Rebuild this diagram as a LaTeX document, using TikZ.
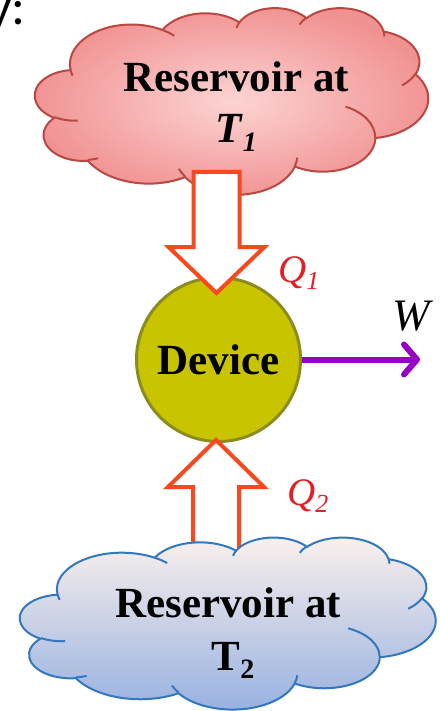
\documentclass[tikz,border=0pt]{standalone}
\usepackage{fontspec}
\setmainfont{Liberation Serif}
\newfontfamily\calib{Carlito}
\usetikzlibrary{arrows.meta}

\definecolor{pinkin}{RGB}{252,212,211}
\definecolor{pinkout}{RGB}{241,146,146}
\definecolor{pinkline}{RGB}{185,72,66}
\definecolor{bluetop}{RGB}{251,241,236}
\definecolor{bluebot}{RGB}{150,176,224}
\definecolor{blueline}{RGB}{50,120,190}
\definecolor{arrred}{RGB}{250,72,30}
\definecolor{qred}{RGB}{228,30,36}
\definecolor{devfill}{RGB}{200,196,0}
\definecolor{devline}{RGB}{140,140,30}
\definecolor{purp}{RGB}{150,0,200}

\newcommand\cldarc[5]{%
 \pgfmathsetmacro\cldta{atan2((#2)*sin(#4),(#3)*cos(#4))}%
 \pgfmathsetmacro\cldtb{atan2((#2)*sin((#4)+(#5)),(#3)*cos((#4)+(#5)))}%
 \pgfmathsetmacro\cldd{(\cldtb)-(\cldta)}%
 \pgfmathsetmacro\cldd{(\cldd)+360*round(((#5)-(\cldd))/360)}%
 \pgfmathsetmacro\cldtb{(\cldta)+(\cldd)}%
 \expandafter\xdef\csname #1s\endcsname{\cldta}%
 \expandafter\xdef\csname #1e\endcsname{\cldtb}}

\def\cloudmain{(39.00,143.70)
 arc[start angle=\cAs, end angle=\cAe, x radius=67.53, y radius=91.90]
 arc[start angle=\cBs, end angle=\cBe, x radius=53.33, y radius=72.67]
 arc[start angle=\cCs, end angle=\cCe, x radius=43.65, y radius=59.45]
 arc[start angle=\cDs, end angle=\cDe, x radius=48.57, y radius=65.95]
 arc[start angle=\cEs, end angle=\cEe, x radius=53.33, y radius=72.73]
 arc[start angle=\cFs, end angle=\cFe, x radius=67.75, y radius=92.20]
 arc[start angle=\cGs, end angle=\cGe, x radius=57.85, y radius=78.67]
 arc[start angle=\cHs, end angle=\cHe, x radius=67.52, y radius=92.15]
 arc[start angle=\cIs, end angle=\cIe, x radius=77.20, y radius=105.43]
 arc[start angle=\cJs, end angle=\cJe, x radius=43.60, y radius=59.18]
 arc[start angle=\cKs, end angle=\cKe, x radius=43.45, y radius=59.45]
 -- cycle}

\def\cloudcurls{
 (46.93,261.77) arc[start angle=\kAs, end angle=\kAe, x radius=43.45, y radius=59.45]
 (69.28,348.99) arc[start angle=\kBs, end angle=\kBe, x radius=43.60, y radius=59.18]
 (164.78,390.90) arc[start angle=\kCs, end angle=\kCe, x radius=67.52, y radius=92.15]
 (288.27,347.51) arc[start angle=\kDs, end angle=\kDe, x radius=67.52, y radius=92.15]
 (341.29,229.54) arc[start angle=\kEs, end angle=\kEe, x radius=57.85, y radius=78.67]
 (417.98,153.54) arc[start angle=\kFs, end angle=\kFe, x radius=53.33, y radius=72.73]
 (383.24,54.26) arc[start angle=\kGs, end angle=\kGe, x radius=48.57, y radius=65.95]
 (290.78,39.52) arc[start angle=\kHs, end angle=\kHe, x radius=48.57, y radius=65.95]
 (221.41,47.20) arc[start angle=\kIs, end angle=\kIe, x radius=43.65, y radius=59.45]
 (140.00,51.92) arc[start angle=\kJs, end angle=\kJe, x radius=67.53, y radius=91.90]
 (41.27,157.89) arc[start angle=\kKs, end angle=\kKe, x radius=67.53, y radius=91.90]}

\tikzset{
 blockarrow/.style={draw=arrred, fill=white, line width=4pt, line join=miter},
 restext/.style={anchor=base, inner sep=0pt, font=\fontsize{43}{50}\selectfont\bfseries},
 qlabel/.style={anchor=base west, inner sep=0pt, text=qred, font=\fontsize{39}{40}\selectfont\itshape}
}

\begin{document}
\begin{tikzpicture}[x=1pt, y=-1pt]
\cldarc{cA}{67.53}{91.90}{-190.4875}{123.7805}
\cldarc{cB}{53.33}{72.67}{-144.1024}{89.9452}
\cldarc{cC}{43.65}{59.45}{-145.8079}{99.7230}
\cldarc{cD}{48.57}{65.95}{-130.9861}{117.2417}
\cldarc{cE}{53.33}{72.73}{-78.7089}{109.0269}
\cldarc{cF}{67.75}{92.20}{-46.2673}{130.2690}
\cldarc{cG}{57.85}{78.67}{0.6250}{114.0333}
\cldarc{cH}{67.52}{92.15}{22.4516}{115.1726}
\cldarc{cI}{77.20}{105.43}{66.2426}{75.7110}
\cldarc{cJ}{43.60}{59.18}{-274.9421}{146.7356}
\cldarc{cK}{43.45}{59.45}{-246.8285}{152.5189}
\cldarc{kA}{43.45}{59.45}{86.7420}{26.4295}
\cldarc{kB}{43.60}{59.18}{73.6105}{11.4475}
\cldarc{kC}{67.52}{92.15}{137.6242}{14.0811}
\cldarc{kD}{67.52}{92.15}{6.4533}{15.9984}
\cldarc{kE}{57.85}{78.67}{-70.2924}{70.9174}
\cldarc{kF}{53.33}{72.73}{30.3180}{27.7515}
\cldarc{kG}{48.57}{65.95}{-13.7443}{14.8589}
\cldarc{kH}{48.57}{65.95}{-149.1815}{18.1954}
\cldarc{kI}{43.65}{59.45}{-163.4943}{17.6864}
\cldarc{kJ}{67.53}{91.90}{-66.7070}{12.3194}
\cldarc{kK}{67.53}{91.90}{157.6544}{11.8582}

\useasboundingbox (0,0) rectangle (441,711);
\clip (0,0) rectangle (441,711);
\fill[white] (0,0) rectangle (441,711);

% top reservoir
\begin{scope}[shift={(35pt,-7.5pt)}, x=0.91pt, y=-0.432pt]
 \path[draw=pinkline, line width=2pt, inner color=pinkin, outer color=pinkout] \cloudmain;
 \draw[pinkline, line width=2pt] \cloudcurls;
\end{scope}
\node[restext] (topa) at (236,92) {Reservoir at};
\node[restext] (topb) at (236,143) {\textit{T}\raisebox{-0.2em}{\fontsize{28}{28}\selectfont\textit{1}}};

% device
\node[circle, draw=devline, fill=devfill, line width=3pt, minimum size=164pt, inner sep=0pt,
      font=\fontsize{43}{50}\selectfont\bfseries] (dev) at (218.5,359.5) {Device};

% heat arrows
\coordinate (tipA) at (216.5,293);
\draw[blockarrow] (tipA) -- ++(48,-46) -- ++(-25,0) -- ++(0,-75) -- ++(-46,0) -- ++(0,75) -- ++(-25,0) -- cycle;
\coordinate (tipB) at (216,440);
\draw[blockarrow] (tipB) -- ++(48,47) -- ++(-25,0) -- ++(0,75) -- ++(-46,0) -- ++(0,-75) -- ++(-25,0) -- cycle;

% bottom reservoir
\begin{scope}[shift={(20pt,-537pt)}, x=0.962pt, y=-0.398pt]
 \path[draw=blueline, line width=2pt, top color=bluetop, bottom color=bluebot] \cloudmain;
 \draw[blueline, line width=2pt] \cloudcurls;
\end{scope}
\node[restext] (bota) at (228,617) {Reservoir at};
\node[restext] (botb) at (233,670) {T\raisebox{-0.2em}{\fontsize{28}{28}\selectfont 2}};

% work
\coordinate (wend) at (420,359.5);
\draw[purp, line width=6pt, -{Straight Barb[length=13pt, width=30pt, round]}] (dev.east) -- (wend);

% labels
\node[qlabel] (q1) at (278,282) {Q\raisebox{-0.18em}{\fontsize{26}{26}\selectfont 1}};
\node[qlabel] (q2) at (287,505) {Q\raisebox{-0.18em}{\fontsize{26}{26}\selectfont 2}};
\node[anchor=base west, inner sep=0pt, font=\fontsize{45}{45}\selectfont\itshape] (wl) at (392,330) {W};
\node[anchor=base east, inner sep=0pt, font=\calib\fontsize{52}{52}\selectfont] (frag) at (26,25) {y:};
\end{tikzpicture}
\end{document}
